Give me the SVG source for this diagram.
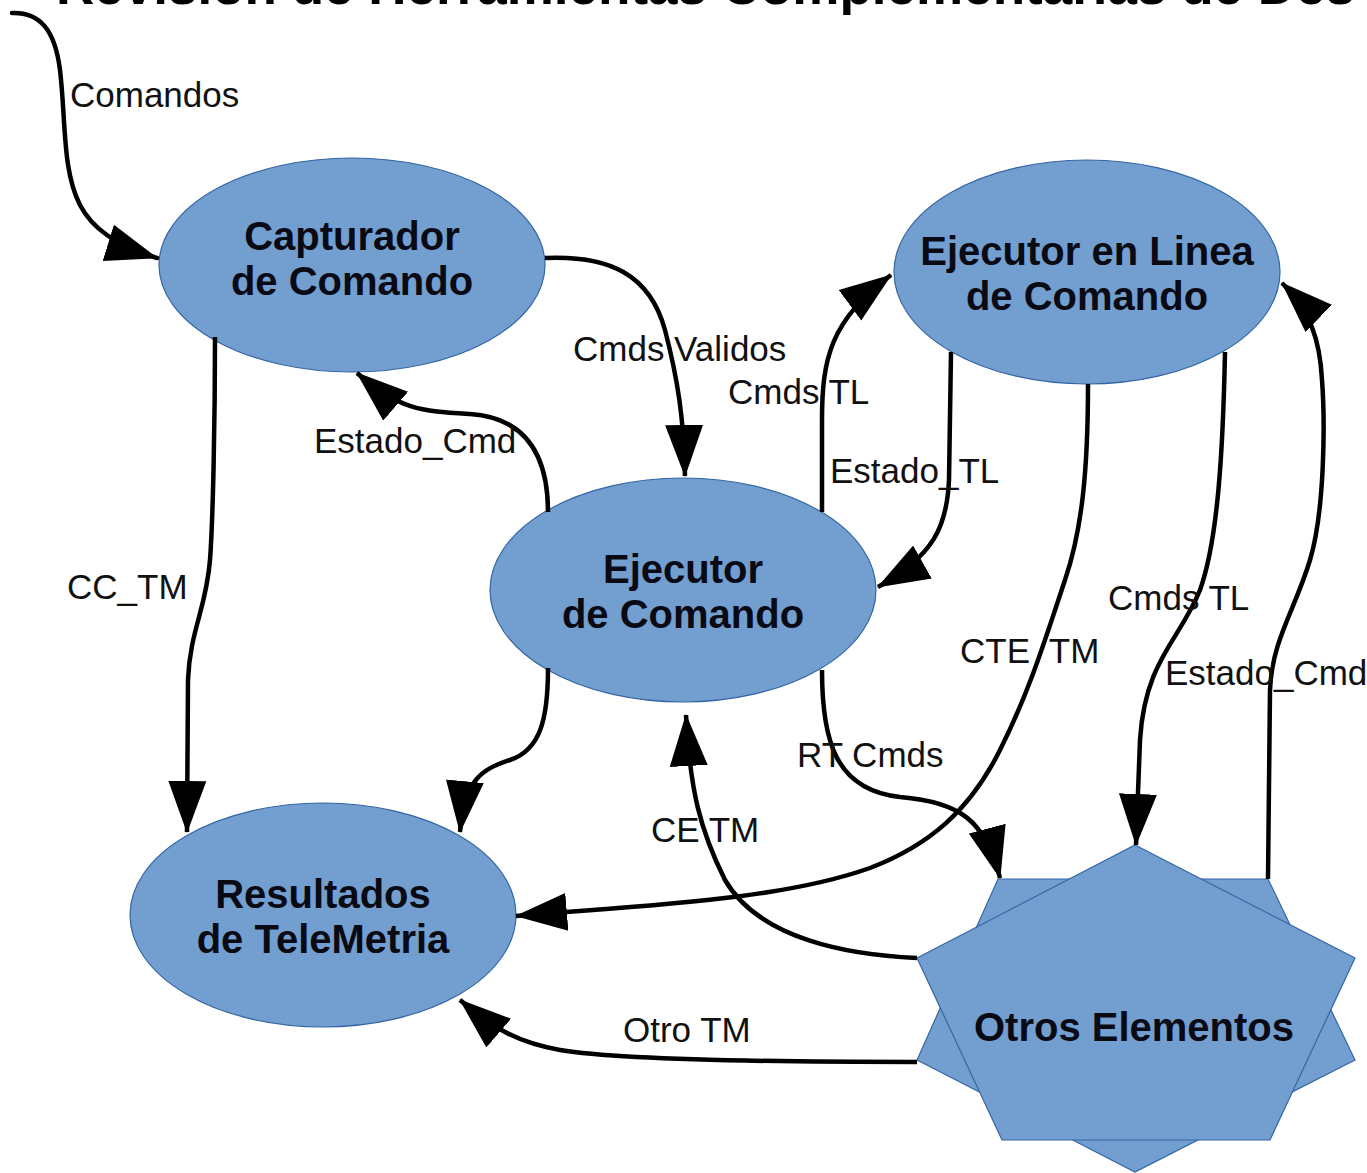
<svg xmlns="http://www.w3.org/2000/svg" width="1367" height="1173" viewBox="0 0 1367 1173">
<style>
.node{fill:#729fcf;stroke:#3465a4;stroke-width:1.2}
.nt{font-family:"Liberation Sans",Arial,sans-serif;font-weight:bold;font-size:40px;fill:#0a0a14;text-anchor:middle}
.lbl{font-family:"Liberation Sans",Arial,sans-serif;font-size:35px;fill:#111}
.c{fill:none;stroke:#000;stroke-width:4.5}
.title{font-family:"Liberation Sans",Arial,sans-serif;font-weight:bold;font-size:53px;fill:#000}
</style>
<defs>
<marker id="ah" markerUnits="userSpaceOnUse" markerWidth="54" markerHeight="42" viewBox="0 0 54 42" refX="51" refY="21" orient="auto">
<path d="M0,2 L52,21 L0,40 z" fill="#000"/>
</marker>
</defs>
<rect width="1367" height="1173" fill="#fff"/>
<text class="title" x="56" y="4">Revisión de Herramientas Complementarias de Des</text>

<g id="capturador">
<ellipse class="node" cx="352" cy="265" rx="193" ry="107"/>
<text class="nt" x="352" y="250">Capturador</text>
<text class="nt" x="352" y="295">de Comando</text>
</g>
<g id="ejecutor-linea">
<ellipse class="node" cx="1087" cy="272" rx="193" ry="112"/>
<text class="nt" x="1087" y="265">Ejecutor en Linea</text>
<text class="nt" x="1087" y="310">de Comando</text>
</g>
<g id="ejecutor">
<ellipse class="node" cx="683" cy="590" rx="193" ry="112"/>
<text class="nt" x="683" y="583">Ejecutor</text>
<text class="nt" x="683" y="628">de Comando</text>
</g>
<g id="resultados">
<ellipse class="node" cx="323" cy="915" rx="193" ry="112"/>
<text class="nt" x="323" y="908">Resultados</text>
<text class="nt" x="323" y="953">de TeleMetria</text>
</g>
<g id="otros">
<polygon class="node" points="998,879 1268,879 1355,1060 1135,1172 917,1060"/>
<polygon class="node" points="1135,845 1355,958 1270,1140 1002,1140 917,958"/>
<text class="nt" x="1134" y="1041">Otros Elementos</text>
</g>

<g id="connectors">
<path class="c" stroke-linecap="round" d="M12,13 C40,12 55,30 60,70 C66,120 62,170 80,205 C92,228 115,245 157,258" marker-end="url(#ah)"/>
<path class="c" d="M215,337 C215,420 213,520 210,560 C206,610 190,630 188,680 L187,832" marker-end="url(#ah)"/>
<path class="c" d="M545,258 C610,255 650,275 665,330 C678,380 684,420 685,476" marker-end="url(#ah)"/>
<path class="c" d="M548,512 C548,460 530,418 470,414 C420,411 400,410 357,373" marker-end="url(#ah)"/>
<path class="c" d="M822,512 L822,420 C822,360 830,320 891,275" marker-end="url(#ah)"/>
<path class="c" d="M951,352 L949,480 C947,525 935,555 878,587" marker-end="url(#ah)"/>
<path class="c" d="M1088,384 C1088,470 1082,530 1065,580 C1045,640 1030,690 1000,750 C970,810 930,845 870,868 C780,900 650,905 516,916" marker-end="url(#ah)"/>
<path class="c" d="M1225,352 C1223,450 1218,540 1200,590 C1180,640 1145,660 1140,740 L1136,845" marker-end="url(#ah)"/>
<path class="c" d="M1268,879 L1270,690 C1272,640 1295,610 1310,560 C1325,510 1325,420 1322,380 C1320,340 1310,310 1282,283" marker-end="url(#ah)"/>
<path class="c" d="M548,668 C548,720 540,750 510,760 C480,770 465,780 460,832" marker-end="url(#ah)"/>
<path class="c" d="M822,670 C822,740 835,790 900,797 C960,802 985,820 1000,878" marker-end="url(#ah)"/>
<path class="c" d="M917,958 C850,955 760,940 725,880 C700,830 690,790 686,715" marker-end="url(#ah)"/>
<path class="c" d="M917,1062 C780,1062 620,1060 560,1050 C520,1043 495,1030 460,1000" marker-end="url(#ah)"/>
</g>

<g id="labels">
<text class="lbl" x="70" y="107">Comandos</text>
<text class="lbl" x="573" y="361">Cmds Validos</text>
<text class="lbl" x="728" y="404">Cmds TL</text>
<text class="lbl" x="314" y="453">Estado_Cmd</text>
<text class="lbl" x="830" y="483">Estado_TL</text>
<text class="lbl" x="67" y="599">CC_TM</text>
<text class="lbl" x="1108" y="610">Cmds TL</text>
<text class="lbl" x="960" y="663" xml:space="preserve">CTE  TM</text>
<text class="lbl" x="1165" y="685">Estado_Cmd</text>
<text class="lbl" x="797" y="767">RT Cmds</text>
<text class="lbl" x="651" y="842">CE TM</text>
<text class="lbl" x="623" y="1042">Otro TM</text>
</g>
</svg>
